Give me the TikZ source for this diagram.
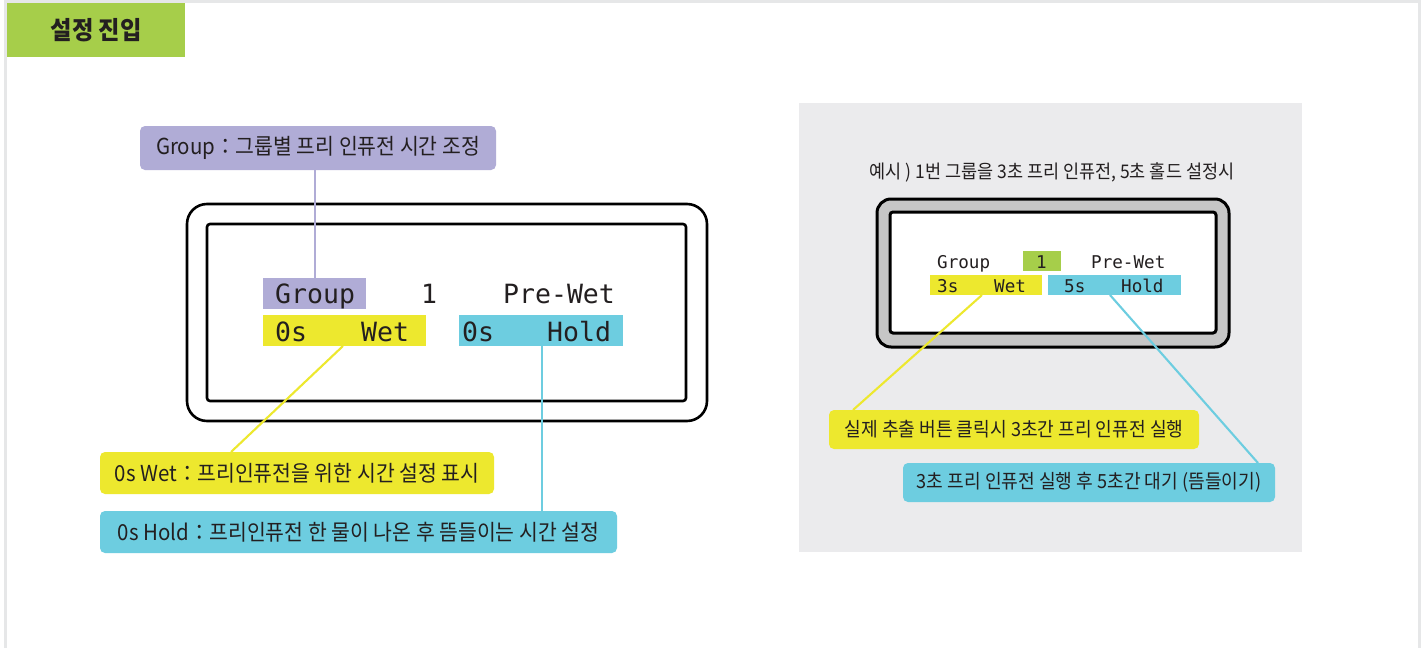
\documentclass[tikz,border=0pt]{standalone}
\usepackage{fontspec}
\setmainfont{Noto Sans CJK KR}
\newfontfamily\kr[FakeStretch=0.93]{Noto Sans CJK KR}
\newfontfamily\lcd{DejaVu Sans Mono}
\definecolor{framegray}{HTML}{E6E7E8}
\definecolor{tabgreen}{HTML}{A6CE4A}
\definecolor{lav}{HTML}{B0ACD6}
\definecolor{ylw}{HTML}{EDE82E}
\definecolor{cyn}{HTML}{6DCDE0}
\definecolor{panel}{HTML}{EBEBED}
\definecolor{lcdgray}{HTML}{C6C6C6}
\definecolor{ink}{HTML}{231F20}
\tikzset{
  lbl/.style={rounded corners=5pt, inner sep=0pt, text=ink, font=\kr\fontsize{22}{24}\selectfont},
  lblr/.style={rounded corners=5pt, inner sep=0pt, text=ink, font=\kr\fontsize{19.5}{22}\selectfont},
  hl/.style={inner sep=0pt, anchor=north west},
  bigt/.style={inner sep=0pt, anchor=base west, text=ink, font=\lcd\fontsize{26.5}{30}\selectfont},
  smallt/.style={inner sep=0pt, anchor=base west, text=ink, font=\lcd\fontsize{17.6}{20}\selectfont},
  conn/.style={line width=2.1pt}
}
\begin{document}
\begin{tikzpicture}[x=1pt,y=-1pt]
\useasboundingbox (0,0) rectangle (1428,648);
\fill[white] (0,0) rectangle (1428,648);
\fill[framegray] (4,0) rectangle (1421,3);
\fill[framegray] (4,0) rectangle (7,648);
\fill[framegray] (1418,0) rectangle (1421,648);

% title tab
\node[fill=tabgreen, minimum width=178pt, minimum height=54pt, inner sep=0pt, anchor=north west, text=ink,
      font=\kr\fontsize{25}{28}\selectfont\bfseries] (tab) at (7,3) {설정 진입};

% ===== left LCD =====
\draw[line width=2.6pt, rounded corners=20pt] (187,204) rectangle (707,421);
\draw[line width=2.6pt, rounded corners=3pt] (207,224) rectangle (686,401);

\node[hl, fill=lav, minimum width=103pt, minimum height=31pt] (lgrp) at (263,278) {};
\node[hl, fill=ylw, minimum width=163pt, minimum height=31pt] (lwet) at (263,315) {};
\node[hl, fill=cyn, minimum width=164pt, minimum height=31pt] (lhold) at (459,315) {};

\node[bigt] (t1) at (275,303) {Group};
\node[bigt] (t2) at (421,303) {1};
\node[bigt] (t3) at (503,303) {Pre-Wet};
\node[bigt] (t4) at (275,341) {0s};
\node[bigt] (t5) at (361,341) {Wet};
\node[bigt] (t6) at (462,341) {0s};
\node[bigt] (t7) at (547,341) {Hold};

% left labels
\node[lbl, fill=lav, minimum width=356pt, minimum height=44pt] (glabel) at (318,148) {Group：그룹별 프리 인퓨전 시간 조정};
\node[lbl, fill=ylw, minimum width=394pt, minimum height=42pt] (wlabel) at (297,473) {0s Wet：프리인퓨전을 위한 시간 설정 표시};
\node[lbl, fill=cyn, minimum width=517pt, minimum height=42pt] (hlabel) at (358.5,532) {0s Hold：프리인퓨전 한 물이 나온 후 뜸들이는 시간 설정};

\coordinate (ga) at (315,170);
\coordinate (gb) at (315,278);
\draw[conn, lav] (ga) -- (gb);
\coordinate (wa) at (343,346);
\coordinate (wb) at (231,452);
\draw[conn, ylw] (wa) -- (wb);
\coordinate (ha) at (542,346);
\coordinate (hb) at (542,511);
\draw[conn, cyn] (ha) -- (hb);

% ===== right panel =====
\fill[panel] (799,103) rectangle (1302,552);
\node[inner sep=0pt, text=ink, font=\kr\fontsize{18.8}{21}\selectfont] (rtitle) at (1052,172) {예시 ) 1번 그룹을 3초 프리 인퓨전, 5초 홀드 설정시};

\draw[line width=3pt, fill=lcdgray, rounded corners=14pt] (877,199) rectangle (1229,347);
\draw[line width=3pt, fill=white, rounded corners=3pt] (890,212) rectangle (1216,333);

\node[hl, fill=tabgreen, minimum width=38pt, minimum height=20pt] (rone) at (1023,251) {};
\node[hl, fill=ylw, minimum width=112pt, minimum height=20pt] (rwet) at (930,275) {};
\node[hl, fill=cyn, minimum width=133pt, minimum height=20pt] (rhold) at (1048,275) {};

\node[smallt] (s1) at (937,268) {Group};
\node[smallt] (s2) at (1036,268) {1};
\node[smallt] (s3) at (1091,268) {Pre-Wet};
\node[smallt] (s4) at (937,292) {3s};
\node[smallt] (s5) at (994,292) {Wet};
\node[smallt] (s6) at (1064,292) {5s};
\node[smallt] (s7) at (1121,292) {Hold};

\node[lblr, fill=ylw, minimum width=370pt, minimum height=39pt] (rylabel) at (1014,429.5) {실제 추출 버튼 클릭시 3초간 프리 인퓨전 실행};
\node[lblr, fill=cyn, minimum width=372pt, minimum height=39pt] (rclabel) at (1089,482.5) {3초 프리 인퓨전 실행 후 5초간 대기 (뜸들이기)};

\coordinate (ra) at (982,295);
\coordinate (rb) at (853,410);
\draw[conn, ylw] (ra) -- (rb);
\coordinate (rc) at (1110,295);
\coordinate (rd) at (1258,463);
\draw[conn, cyn] (rc) -- (rd);
\end{tikzpicture}
\end{document}
